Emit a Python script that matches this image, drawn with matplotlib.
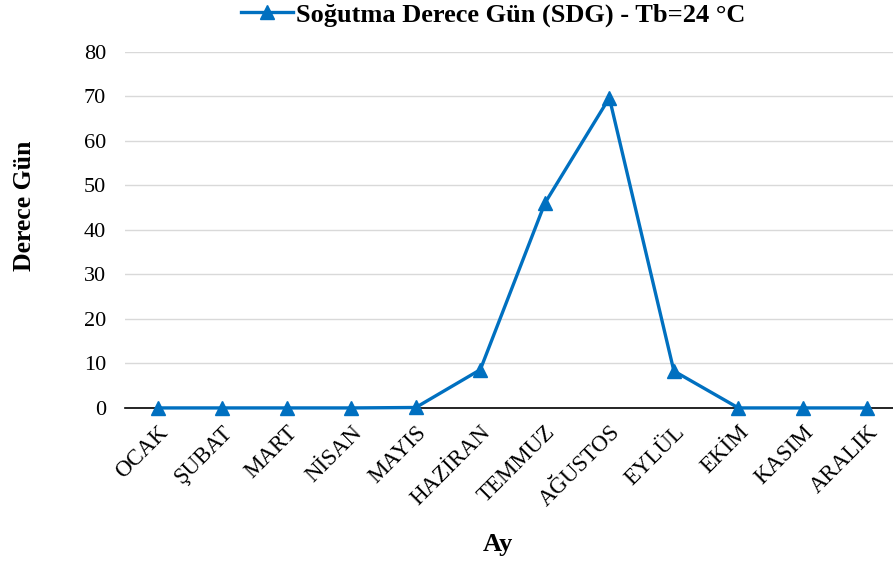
import matplotlib
matplotlib.use("Agg")
import matplotlib.pyplot as plt

months = ["OCAK", "ŞUBAT", "MART", "NİSAN", "MAYIS", "HAZİRAN",
          "TEMMUZ", "AĞUSTOS", "EYLÜL", "EKİM", "KASIM", "ARALIK"]
sdg = [0, 0, 0, 0, 0.1, 8.6, 46.0, 69.7, 8.3, 0, 0, 0]
yticks = [0, 10, 20, 30, 40, 50, 60, 70, 80]

plt.rcParams['font.family'] = ['Liberation Serif', 'DejaVu Serif']

fig = plt.figure(figsize=(8.93, 5.65), dpi=100)
ax = fig.add_axes([0.1405, 0.278, 0.867, 0.63])

x = list(range(len(months)))
ax.plot(x, sdg, color="#0070C0", linewidth=2.4, marker="^", markersize=10,
        label="Soğutma Derece Gün (SDG) - Tb=24 °C", zorder=3, clip_on=False)

ax.set_xlim(-0.5, len(months) - 0.5)
ax.set_ylim(0, 80)
ax.set_yticks(yticks)
ax.set_xticks(x)
ax.set_xticklabels(months, rotation=45, ha="right", rotation_mode="anchor", fontsize=16.5)
ax.tick_params(axis="y", labelsize=16, length=0, pad=14)
ax.tick_params(axis="x", length=0, pad=10)
ax.grid(axis="y", color="#D9D9D9", linewidth=1)
ax.set_axisbelow(True)
for s in ["top", "right", "left"]:
    ax.spines[s].set_visible(False)
ax.spines["bottom"].set_color("black")
ax.spines["bottom"].set_linewidth(1.2)
ax.spines["bottom"].set_zorder(2)

fig.text(25 / 893, 1 - 206 / 565, "Derece Gün", rotation=90, fontsize=18.5,
         fontweight="bold", ha="center", va="center")
fig.text(498 / 893, 1 - 545 / 565, "Ay", fontsize=19, fontweight="bold",
         ha="center", va="center")

handles, labels = ax.get_legend_handles_labels()
fig.legend(handles, labels, loc="center", bbox_to_anchor=(493 / 893, 1 - 15 / 565),
           frameon=False, prop={"weight": "bold", "size": 19}, handlelength=2.0,
           handletextpad=0.1, borderaxespad=0.0, borderpad=0.0)

fig.savefig("out.png", dpi=100)
